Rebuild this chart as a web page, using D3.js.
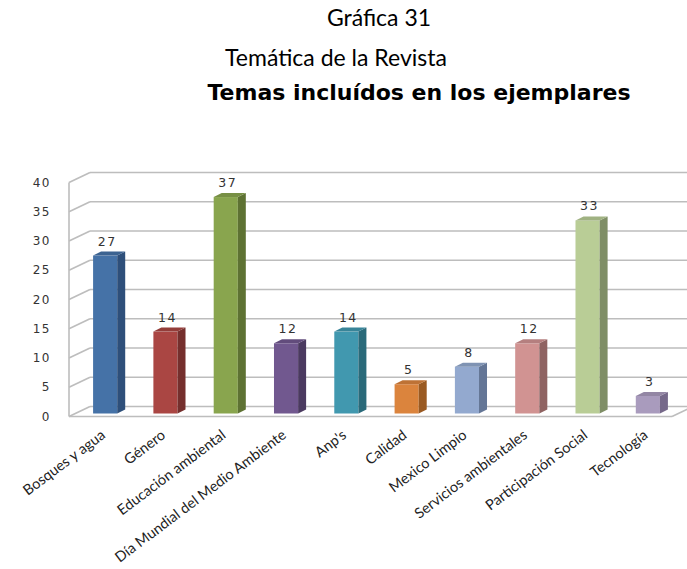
<!DOCTYPE html>
<html lang="es">
<head>
  <meta charset="UTF-8">
  <title>Gráfica 31</title>
  <style>
    body { margin: 0; background: #fff; }
    .tick-label { font-family: "DejaVu Sans", sans-serif; font-size: 12px; letter-spacing: 1.5px; fill: #333; }
    .val-label { font-family: "DejaVu Sans", sans-serif; font-size: 12.5px; letter-spacing: 1.5px; fill: #333; }
    .cat-label { font-family: Lato, sans-serif; font-size: 14.5px; fill: #222; }
  </style>
</head>
<body>
  <script src="https://cdn.jsdelivr.net/npm/d3@7"></script>
  <script>
    // datos de la gráfica
    var categories = ["Bosques y agua", "Género", "Educación ambiental", "Día Mundial del Medio Ambiente",
                      "Anp's", "Calidad", "Mexico Limpio", "Servicios ambientales", "Participación Social", "Tecnología"];
    var values = [27, 14, 37, 12, 14, 5, 8, 12, 33, 3];
    var yTicks = [0, 5, 10, 15, 20, 25, 30, 35, 40];
    var fronts = ["#4572A7", "#AA4643", "#89A54E", "#71588F", "#4198AF", "#DB843D", "#93A9CF", "#D19392", "#B9CD96", "#A99BBD"];
    var sides  = ["#2E4F7A", "#752F2D", "#5E7233", "#4B3A60", "#2A6A7A", "#9A5A22", "#647696", "#8F6362", "#7F8E66", "#76698A"];

    var width = 687, height = 569;
    var svg = d3.select("body").append("svg").attr("width", width).attr("height", height);

    // profundidad del efecto 3D
    var dx = 21, dy = -10;

    var x = d3.scaleBand().domain(categories).range([69, 672]).padding(0);
    var y = d3.scaleLinear().domain([0, 40]).range([416.5, 182.5]);

    // titulos
    svg.append("text").attr("x", 379).attr("y", 26).attr("text-anchor", "middle")
      .style("font-family", "Lato, sans-serif").style("font-size", "23px").text("Gráfica 31");
    svg.append("text").attr("x", 336).attr("y", 66).attr("text-anchor", "middle")
      .style("font-family", "Lato, sans-serif").style("font-size", "23px").text("Temática de la Revista");
    svg.append("text").attr("x", 419).attr("y", 100).attr("text-anchor", "middle")
      .style("font-family", "'DejaVu Sans', sans-serif").style("font-weight", "bold").style("font-size", "22px")
      .text("Temas incluídos en los ejemplares");

    // pared del fondo: lineas de la cuadricula
    var grid = svg.append("g").attr("stroke", "#BDBDBD").attr("stroke-width", 1.6).attr("fill", "none");
    grid.selectAll("line.back").data(yTicks).enter().append("line")
      .attr("x1", 69 + dx).attr("x2", width)
      .attr("y1", function (d) { return y(d) + dy; })
      .attr("y2", function (d) { return y(d) + dy; });
    grid.selectAll("line.side").data(yTicks).enter().append("line")
      .attr("x1", 69).attr("x2", 69 + dx)
      .attr("y1", function (d) { return y(d); })
      .attr("y2", function (d) { return y(d) + dy; });
    // eje vertical y piso
    grid.append("line").attr("x1", 69).attr("x2", 69).attr("y1", y(40)).attr("y2", y(0));
    grid.append("line").attr("x1", 69).attr("x2", x.range()[1]).attr("y1", y(0)).attr("y2", y(0));
    grid.append("line").attr("x1", x.range()[1]).attr("x2", x.range()[1] + dx).attr("y1", y(0)).attr("y2", y(0) + dy);

    // etiquetas eje y
    svg.selectAll("text.tick-label").data(yTicks).enter().append("text")
      .attr("class", "tick-label")
      .attr("x", 51).attr("y", function (d) { return y(d); })
      .attr("dy", "0.35em").attr("text-anchor", "end")
      .text(function (d) { return d; });

    // barras 3D
    var bw = x.bandwidth() * 0.4;
    var off = 6, offY = -3, bd = 8, bdy = -4;
    var bars = svg.selectAll("g.bar").data(values).enter().append("g").attr("class", "bar");
    function bx(i) { return x(categories[i]) + x.bandwidth() / 2 - bw / 2 + off; }

    bars.append("rect")
      .attr("x", function (d, i) { return bx(i); })
      .attr("y", function (d) { return y(d) + offY; })
      .attr("width", bw)
      .attr("height", function (d) { return y(0) - y(d); })
      .attr("fill", function (d, i) { return fronts[i]; });
    bars.append("path")
      .attr("d", function (d, i) {
        var x0 = bx(i) + bw, t = y(d) + offY, b = y(0) + offY;
        return "M" + x0 + "," + t + "L" + (x0 + bd) + "," + (t + bdy) + "L" + (x0 + bd) + "," + (b + bdy) + "L" + x0 + "," + b + "Z";
      })
      .attr("fill", function (d, i) { return sides[i]; });
    bars.append("path")
      .attr("d", function (d, i) {
        var x0 = bx(i), t = y(d) + offY;
        return "M" + x0 + "," + t + "L" + (x0 + bd) + "," + (t + bdy) + "L" + (x0 + bw + bd) + "," + (t + bdy) + "L" + (x0 + bw) + "," + t + "Z";
      })
      .attr("fill", function (d, i) { return d3.color(fronts[i]).darker(0.4); });

    // valores
    svg.selectAll("text.val-label").data(values).enter().append("text")
      .attr("class", "val-label")
      .attr("x", function (d, i) { return bx(i) + bw / 2 + 2; })
      .attr("y", function (d) { return y(d) + offY - 10; })
      .attr("text-anchor", "middle")
      .text(function (d) { return d; });

    // etiquetas de categorias
    svg.selectAll("text.cat-label").data(categories).enter().append("text")
      .attr("class", "cat-label")
      .attr("text-anchor", "end")
      .attr("transform", function (d) {
        return "translate(" + (x(d) + x.bandwidth() / 2 + 7) + ",437) rotate(-37)";
      })
      .text(function (d) { return d; });
  </script>
</body>
</html>
